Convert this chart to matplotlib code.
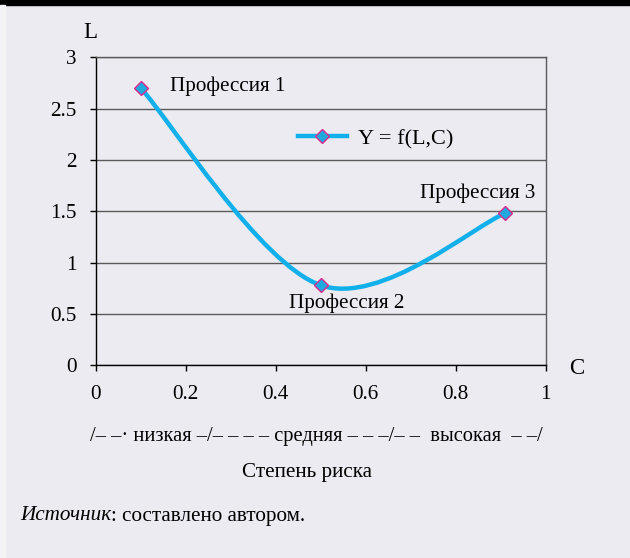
import numpy as np
import matplotlib
matplotlib.use("Agg")
import matplotlib.pyplot as plt
from matplotlib.path import Path
from matplotlib.patches import PathPatch
from matplotlib.lines import Line2D

# ---------------- data ----------------
risk_c = [0.1, 0.5, 0.91]          # C, степень риска
value_l = [2.70, 0.78, 1.48]        # L
point_names = ["Профессия 1", "Профессия 2", "Профессия 3"]
x_ticks = [0, 0.2, 0.4, 0.6, 0.8, 1]
x_tick_labels = ["0", "0.2", "0.4", "0.6", "0.8", "1"]
y_ticks = [0, 0.5, 1, 1.5, 2, 2.5, 3]
y_tick_labels = ["0", "0.5", "1", "1.5", "2", "2.5", "3"]
legend_label = "Y = f(L,C)"
zone_line = "/– –· низкая –/– – – – средняя – – –/– –  высокая  – –/"
x_title = "Степень риска"

BG = "#ECEBF1"
LINE = "#12B0EA"
MFACE = "#1FA9DF"
MEDGE = "#E0288C"
GRID = "#5a5a5a"
FS = 15.2

plt.rcParams["font.family"] = ["Liberation Serif", "DejaVu Serif"]

fig = plt.figure(figsize=(6.3, 5.58), dpi=100)
fig.patch.set_facecolor(BG)
# black strip at the very top, light strip on the left edge
fig.add_artist(plt.Rectangle((0, 1 - 5 / 558), 1, 5 / 558, transform=fig.transFigure,
                             color="black", zorder=0))
fig.add_artist(plt.Rectangle((0, 0), 5 / 630, 1 - 5 / 558, transform=fig.transFigure,
                             color="#F4F4F7", zorder=0))

ax = fig.add_axes([0.152, 0.3453, 0.714, 0.552])
ax.set_facecolor(BG)
ax.set_xlim(0, 1)
ax.set_ylim(0, 3)

# grid + frame
ax.set_yticks(y_ticks)
ax.set_yticklabels(y_tick_labels, fontsize=FS)
ax.set_xticks(x_ticks)
ax.set_xticklabels(x_tick_labels, fontsize=FS)
ax.yaxis.grid(True, color=GRID, linewidth=1)
ax.set_axisbelow(True)
ax.tick_params(axis="y", direction="out", length=4, width=1, color="black", pad=10)
ax.tick_params(axis="x", direction="out", length=4, width=1, color="black", pad=10)
ax.spines["left"].set_color("black")
ax.spines["bottom"].set_color("black")
ax.spines["top"].set_color(GRID)
ax.spines["right"].set_color(GRID)
for s in ax.spines.values():
    s.set_linewidth(1)

# smoothed line (Excel-like Catmull-Rom -> cubic Bezier)
pts = np.column_stack([risk_c, value_l])
n = len(pts)
verts = [tuple(pts[0])]
codes = [Path.MOVETO]
for i in range(n - 1):
    p_prev = pts[max(i - 1, 0)]
    p0 = pts[i]
    p1 = pts[i + 1]
    p_next = pts[min(i + 2, n - 1)]
    c1 = p0 + (p1 - p_prev) / 6
    c2 = p1 - (p_next - p0) / 6
    verts += [tuple(c1), tuple(c2), tuple(p1)]
    codes += [Path.CURVE4] * 3
ax.add_patch(PathPatch(Path(verts, codes), facecolor="none", edgecolor=LINE,
                       linewidth=3.2, capstyle="round", zorder=3))
ax.plot(risk_c, value_l, linestyle="none", marker="D", markersize=7.5,
        markerfacecolor=MFACE, markeredgecolor=MEDGE, markeredgewidth=1, zorder=4)

# point labels
ax.text(risk_c[0] + 0.066, value_l[0] + 0.02, point_names[0], fontsize=FS, va="center", ha="left")
ax.text(risk_c[1] + 0.057, value_l[1] - 0.18, point_names[1], fontsize=FS, va="center", ha="center")
ax.text(risk_c[2] - 0.062, value_l[2] + 0.2, point_names[2], fontsize=FS, va="center", ha="center")

# legend
handle = Line2D([], [], color=LINE, linewidth=3.2, marker="D", markersize=7.5,
                markerfacecolor=MFACE, markeredgecolor=MEDGE)
ax.legend([handle], [legend_label], loc="center left", bbox_to_anchor=(0.405, 0.735),
          frameon=False, fontsize=16, handlelength=2.2, handletextpad=0.5)

# axis letters
fig.text(90 / 630, 1 - 33 / 558, "L", fontsize=16.5, ha="center", va="center")
fig.text(577 / 630, 1 - 369 / 558, "C", fontsize=16.5, ha="center", va="center")

# text under the axis
fig.text(316 / 630, 1 - 437 / 558, zone_line, fontsize=14.8, ha="center", va="center")
fig.text(307 / 630, 1 - 473 / 558, x_title, fontsize=FS, ha="center", va="center")

src = fig.text(20 / 630, 1 - 516 / 558, "Источник", fontsize=FS, style="italic",
               ha="left", va="center")
fig.canvas.draw()
bb = src.get_window_extent(fig.canvas.get_renderer())
fig.text(bb.x1 / (fig.dpi * 6.3), 1 - 516 / 558, ": составлено автором.", fontsize=FS,
         ha="left", va="center")

fig.savefig("out.png", dpi=100, facecolor=BG)
